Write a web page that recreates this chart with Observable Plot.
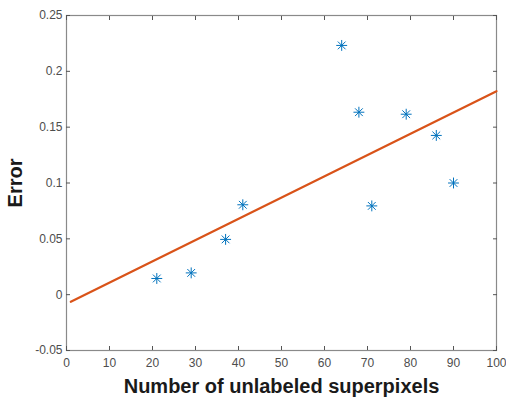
<!DOCTYPE html>
<html>
<head>
<meta charset="utf-8">
<script src="https://cdn.jsdelivr.net/npm/d3@7"></script>
<script src="https://cdn.jsdelivr.net/npm/@observablehq/plot@0.6"></script>
<style>
  html, body { margin: 0; padding: 0; background: #fff; }
  #chart svg { display: block; font-family: "Liberation Sans", Arial, sans-serif; }
</style>
</head>
<body>
<div id="chart"></div>
<script>
const pointsX = [21, 29, 37, 41, 64, 68, 71, 79, 86, 90];
const pointsY = [0.0145, 0.0195, 0.0495, 0.0805, 0.2232, 0.1634, 0.0795, 0.1616, 0.1426, 0.1000];
const fitX = [1, 100];
const fitY = [-0.0064, 0.1822];
const xTicks = [0, 10, 20, 30, 40, 50, 60, 70, 80, 90, 100];
const yTicks = [-0.05, 0, 0.05, 0.1, 0.15, 0.2, 0.25];
const xLabel = "Number of unlabeled superpixels";
const yLabel = "Error";

const points = pointsX.map((x, i) => ({x, y: pointsY[i]}));
const fit = fitX.map((x, i) => ({x, y: fitY[i]}));
const fmtY = d => String(+d.toFixed(2));
const axisColor = "#4d4d4d";
const tickColor = "#555";

const chart = Plot.plot({
  width: 506,
  height: 401,
  marginLeft: 66,
  marginRight: 10,
  marginTop: 15,
  marginBottom: 51,
  x: {domain: [0, 100]},
  y: {domain: [-0.05, 0.25]},
  style: {fontFamily: "'Liberation Sans', Arial, sans-serif", fontSize: "12px", color: axisColor},
  marks: [
    Plot.frame({stroke: "#8a8a8a", strokeWidth: 1.2}),
    // inward ticks (outward ticks shifted inside)
    Plot.axisX({anchor: "bottom", ticks: xTicks, tickSize: 4, dy: -4, tickFormat: () => "", label: null, stroke: tickColor}),
    Plot.axisX({anchor: "top", ticks: xTicks, tickSize: 4, dy: 4, tickFormat: () => "", label: null, stroke: tickColor}),
    Plot.axisY({anchor: "left", ticks: yTicks, tickSize: 4, dx: 4, tickFormat: () => "", label: null, stroke: tickColor}),
    Plot.axisY({anchor: "right", ticks: yTicks, tickSize: 4, dx: -4, tickFormat: () => "", label: null, stroke: tickColor}),
    // labels
    Plot.axisX({anchor: "bottom", ticks: xTicks, tickSize: 0, tickPadding: 8, fontSize: 12, fill: axisColor,
      label: xLabel, labelAnchor: "center", labelArrow: "none", labelOffset: 42}),
    Plot.axisY({anchor: "left", ticks: yTicks, tickSize: 0, tickPadding: 4, tickFormat: fmtY, fontSize: 12, fill: axisColor,
      label: yLabel, labelAnchor: "center", labelArrow: "none", labelOffset: 59}),
    Plot.line(fit, {x: "x", y: "y", stroke: "#D95319", strokeWidth: 2.2}),
    Plot.dot(points, {x: "x", y: "y", symbol: "plus", r: 3.6, stroke: "#0072BD", strokeWidth: 1}),
    Plot.dot(points, {x: "x", y: "y", symbol: "times", r: 3.6, stroke: "#0072BD", strokeWidth: 1})
  ]
});

// style axis labels (bold, larger)
chart.querySelectorAll("[aria-label='x-axis label'] text, [aria-label='y-axis label'] text").forEach(t => {
  t.setAttribute("font-size", "20");
  t.setAttribute("font-weight", "bold");
  t.setAttribute("fill", "#1a1a1a");
});
document.getElementById("chart").appendChild(chart);
</script>
</body>
</html>
